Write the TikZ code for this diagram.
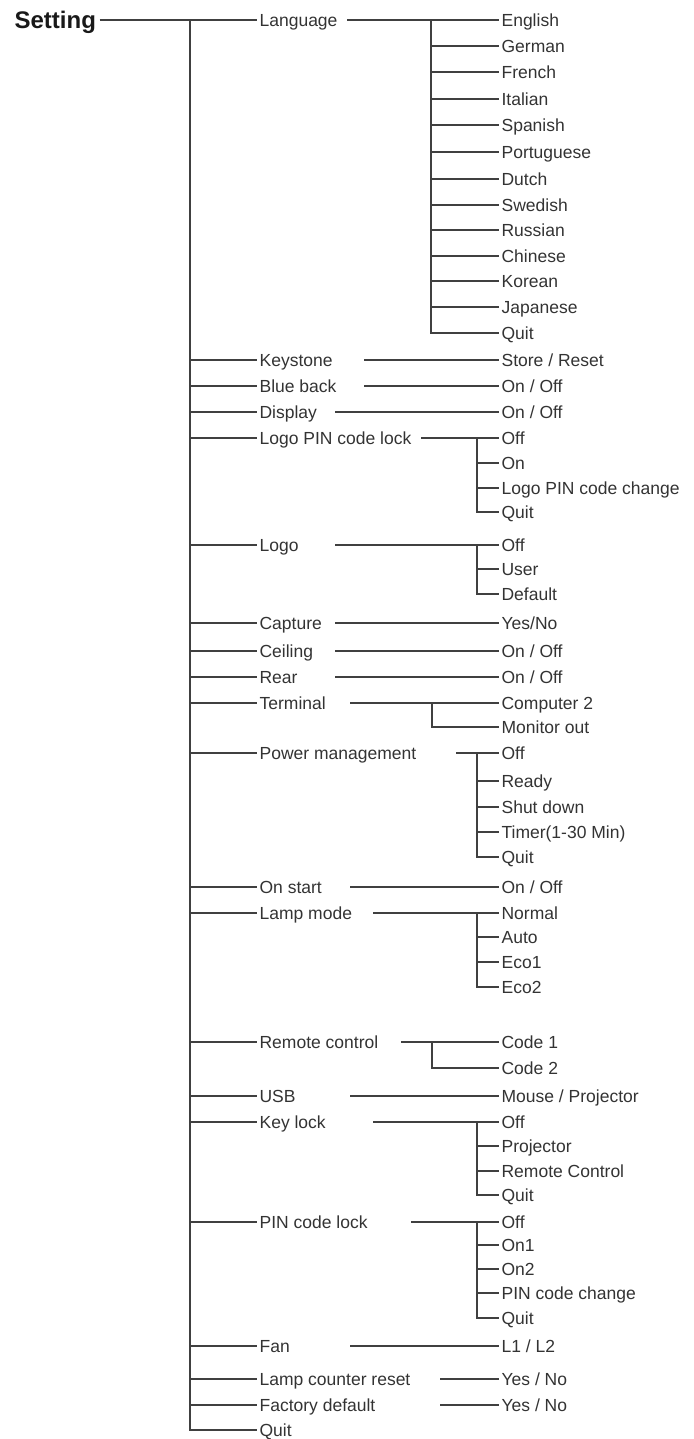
\documentclass[tikz,border=0pt]{standalone}
\usepackage{fontspec}
\setmainfont{Liberation Sans}
\begin{document}
\begin{tikzpicture}[x=0.5pt,y=-0.5pt,line width=0.6pt,
	item/.style={anchor=west,inner xsep=1pt,inner ysep=0pt,text height=6.2pt,text depth=0pt,font=\fontsize{8.75}{10}\selectfont,text=black!80},
	link/.style={draw=black!75}]
	\useasboundingbox (0,0) rectangle (693,1439);
	\node[item,inner xsep=1.5pt,text height=8.6pt,font=\bfseries\fontsize{12}{14}\selectfont,text=black!90] (set) at (11,20) {Setting};
	% main menu
	\foreach \n/\y/\lbl in {lan/20/Language,key/360/Keystone,blu/386/Blue back,dis/412/Display,lpl/438/Logo PIN code lock,logo/545/Logo,cap/623/Capture,cei/651/Ceiling,rea/677/Rear,ter/703/Terminal,pow/753/Power management,ons/887/On start,lam/913/Lamp mode,rem/1042/Remote control,usb/1096/USB,klk/1122/Key lock,pin/1222/PIN code lock,fan/1346/Fan,lcr/1379/Lamp counter reset,fac/1405/Factory default,quit/1430/Quit}
		{\node[item] (\n) at (257,\y) {\lbl};\draw[link] (190,0 |- \n.west) -- (\n.west);}
	\draw[link] (set.east) -- (lan.west);\draw[link] (190,0 |- lan.west) -- (190,0 |- quit.west) -- (quit.west);
	% sub menus: start x / bar x / entries
	\foreach \sx/\bx/\entries in {347/431/{en/20/English,de/46/German,fr/72/French,it/99/Italian,es/125/Spanish,pt/152/Portuguese,nl/179/Dutch,sv/205/Swedish,ru/230/Russian,zh/256/Chinese,ko/281/Korean,ja/307/Japanese,lq/333/Quit},
		364/0/{ks/360/{Store / Reset}},364/0/{bb/386/{On / Off}},335/0/{di/412/{On / Off}},
		421/477/{lp1/438/Off,lp2/463/On,lp3/488/Logo PIN code change,lp4/512/Quit},
		335/477/{lg1/545/Off,lg2/569/User,lg3/594/Default},
		335/0/{ca/623/{Yes/No}},335/0/{ce/651/{On / Off}},335/0/{re/677/{On / Off}},
		350/432/{te1/703/Computer 2,te2/727/Monitor out},
		456/477/{pw1/753/Off,pw2/781/Ready,pw3/807/Shut down,pw4/832/Timer(1-30 Min),pw5/857/Quit},
		350/0/{os/887/{On / Off}},
		373/477/{lm1/913/Normal,lm2/937/Auto,lm3/962/Eco1,lm4/987/Eco2},
		401/432/{rc1/1042/Code 1,rc2/1068/Code 2},
		350/0/{us/1096/{Mouse / Projector}},
		373/477/{kl1/1122/Off,kl2/1146/Projector,kl3/1171/Remote Control,kl4/1195/Quit},
		411/477/{pc1/1222/Off,pc2/1245/On1,pc3/1269/On2,pc4/1293/PIN code change,pc5/1318/Quit},
		350/0/{fa/1346/{L1 / L2}},440/0/{lc/1379/{Yes / No}},440/0/{fd/1405/{Yes / No}}}
		{\foreach \n/\y/\lbl [count=\i,remember=\n as \p] in \entries{\node[item] (\n) at (499,\y) {\lbl};
			\ifnum\i=1 \draw[link] (\sx,0 |- \n.west) -- (\n.west);\else\draw[link] (\bx,0 |- \p.west) -- (\bx,0 |- \n.west) -- (\n.west);\fi}}
\end{tikzpicture}
\end{document}
